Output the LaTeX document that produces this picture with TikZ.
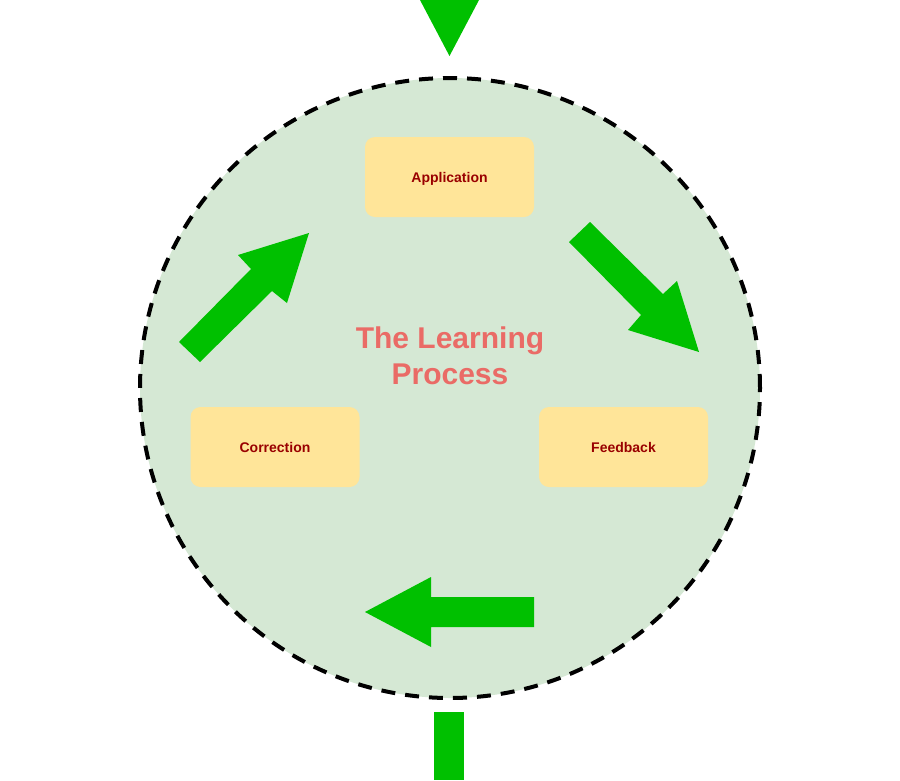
\documentclass[tikz,border=0pt]{standalone}
\usepackage{fontspec}
\setmainfont{Liberation Sans}
\definecolor{arrowgreen}{HTML}{00C000}
\definecolor{circfill}{HTML}{D5E8D4}
\definecolor{boxfill}{HTML}{FFE599}
\definecolor{boxtext}{HTML}{990000}
\definecolor{titlered}{HTML}{EA6B66}
\begin{document}
\begin{tikzpicture}[x=1pt,y=-1pt,
  stagebox/.style={draw=none,fill=boxfill,rounded corners=10pt,minimum width=169pt,minimum height=80pt,inner sep=0pt,
    text=boxtext,text depth=0pt,font=\fontsize{14}{16}\selectfont\bfseries},
  greenshape/.style={fill=arrowgreen,draw=none}]
\useasboundingbox (0,0) rectangle (900,780);
\fill[white] (0,0) rectangle (900,780);
% circle
\node (circ) [circle,minimum size=620pt,inner sep=0pt,fill=circfill,draw=black,line width=4pt,dash pattern=on 14pt off 10pt] at (450,388) {};
% stage boxes
\node (app) [stagebox] at (449.5,177) {Application};
\node (corr) [stagebox] at (275,447) {Correction};
\node (feed) [stagebox] at (623.5,447) {Feedback};
% title
\node (title) [text=titlered,font=\fontsize{30}{36}\selectfont\bfseries,align=center] at (450,356) {The Learning\\Process};
% top triangle
\fill[greenshape] (420,0) -- (479,0) -- (449.5,56) -- cycle;
% bottom bar
\fill[greenshape] (434,712) rectangle (464,780);
% arrow up-right
\fill[greenshape] (179,342) -- (251,269) -- (238,255) -- (309,233) -- (287,303) -- (272,291) -- (200,362) -- cycle;
% arrow down-right
\fill[greenshape] (590,222) -- (663,294) -- (677,281) -- (699,352) -- (628,330) -- (641,315) -- (569,242) -- cycle;
% arrow left
\fill[greenshape] (534,597) -- (431,597) -- (431,577) -- (365,612) -- (431,647) -- (431,627) -- (534,627) -- cycle;
\end{tikzpicture}
\end{document}
